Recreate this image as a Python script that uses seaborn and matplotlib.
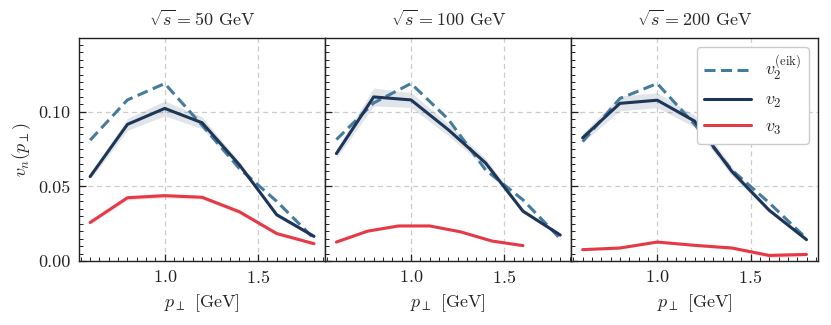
import numpy as np
import pandas as pd
import matplotlib
matplotlib.use("Agg")
import matplotlib.pyplot as plt
import seaborn as sns
from matplotlib.ticker import MultipleLocator

# ---------------- data ----------------
energies = ["50", "100", "200"]
pt = [0.6, 0.8, 1.0, 1.2, 1.4, 1.6, 1.8]
pt_v3_100 = [0.6, 0.767, 0.933, 1.1, 1.267, 1.433, 1.6]

v2eik_50 = [0.081, 0.108, 0.119, 0.091, 0.062, 0.040, 0.015]
v2_50 = [0.0566, 0.0916, 0.1023, 0.0927, 0.0645, 0.0310, 0.0165]
v2_50_err = [0.002, 0.004, 0.005, 0.004, 0.002, 0.0015, 0.0012]
v3_50 = [0.0258, 0.0424, 0.0438, 0.0427, 0.0330, 0.0184, 0.0116]
v3_50_err = [0.0012, 0.0015, 0.0015, 0.0015, 0.0015, 0.0012, 0.001]

v2eik_100 = [0.0814, 0.106, 0.119, 0.095, 0.061, 0.041, 0.015]
v2_100 = [0.072, 0.110, 0.108, 0.088, 0.0657, 0.0334, 0.0174]
v2_100_err = [0.003, 0.006, 0.005, 0.004, 0.003, 0.0015, 0.0012]
v3_100 = [0.0127, 0.020, 0.0235, 0.0235, 0.0195, 0.0134, 0.0103]
v3_100_err = [0.0008, 0.0008, 0.0008, 0.0008, 0.0008, 0.0008, 0.0008]

v2eik_200 = [0.080, 0.109, 0.119, 0.0916, 0.061, 0.039, 0.015]
v2_200 = [0.0826, 0.1057, 0.1078, 0.0938, 0.060, 0.034, 0.0143]
v2_200_err = [0.003, 0.005, 0.005, 0.004, 0.003, 0.0015, 0.0012]
v3_200 = [0.0076, 0.0087, 0.0127, 0.0105, 0.0087, 0.0037, 0.0044]
v3_200_err = [0.0008, 0.0008, 0.0008, 0.0008, 0.0012, 0.0015, 0.0015]

panels = [
    (pt, v2eik_50, v2_50, v2_50_err, pt, v3_50, v3_50_err),
    (pt, v2eik_100, v2_100, v2_100_err, pt_v3_100, v3_100, v3_100_err),
    (pt, v2eik_200, v2_200, v2_200_err, pt, v3_200, v3_200_err),
]

c_eik = "#457b9d"
c_v2 = "#1d3557"
c_v3 = "#e63946"

sns.set_theme(style="ticks")
plt.rcParams.update({
    "font.family": ["cmr10", "DejaVu Serif"],
    "mathtext.fontset": "cm",
    "axes.formatter.use_mathtext": True,
    "axes.unicode_minus": False,
    "font.size": 13,
    "axes.edgecolor": "#222222",
    "axes.linewidth": 1.0,
    "xtick.direction": "in",
    "ytick.direction": "in",
    "xtick.top": False,
    "ytick.right": False,
    "xtick.color": "#222222",
    "ytick.color": "#222222",
})

fig, axes = plt.subplots(1, 3, figsize=(8.31, 3.25), dpi=100, sharey=True)
fig.subplots_adjust(left=0.095, right=0.984, top=0.883, bottom=0.197, wspace=0)

for i, (ax, E, p) in enumerate(zip(axes, energies, panels)):
    x2, eik, v2, v2e, x3, v3, v3e = p
    v2 = np.array(v2); v2e = np.array(v2e)
    v3 = np.array(v3); v3e = np.array(v3e)
    df2 = pd.DataFrame({"pt": x2, "eik": eik, "v2": v2})
    df3 = pd.DataFrame({"pt": x3, "v3": v3})
    ax.fill_between(x2, v2 - v2e, v2 + v2e, color=c_v2, alpha=0.13, lw=0)
    ax.fill_between(x3, v3 - v3e, v3 + v3e, color=c_v3, alpha=0.15, lw=0)
    sns.lineplot(data=df2, x="pt", y="eik", ax=ax, color=c_eik, lw=2.2,
                 label=r"$v_2^{(\mathrm{eik})}$", legend=False)
    ax.lines[-1].set_dashes([3.6, 1.8])
    sns.lineplot(data=df2, x="pt", y="v2", ax=ax, color=c_v2, lw=2.2,
                 label=r"$v_2$", legend=False)
    sns.lineplot(data=df3, x="pt", y="v3", ax=ax, color=c_v3, lw=2.2,
                 label=r"$v_3$", legend=False)

    ax.set_xlim(0.54, 1.86)
    ax.set_ylim(0, 0.1495)
    ax.xaxis.set_major_locator(MultipleLocator(0.5))
    ax.xaxis.set_minor_locator(MultipleLocator(0.05))
    ax.yaxis.set_major_locator(MultipleLocator(0.05))
    ax.yaxis.set_minor_locator(MultipleLocator(0.005))
    ax.yaxis.set_major_formatter(matplotlib.ticker.FormatStrFormatter("%.2f"))
    ax.tick_params(which="major", length=5, width=0.9, labelsize=13, pad=6)
    ax.tick_params(which="minor", length=2.8, width=0.7)
    ax.grid(True, which="major", ls=(0, (4, 3)), color="#cccccc", lw=0.9)
    ax.set_axisbelow(True)
    ax.set_title(r"$\sqrt{s}=$" + E + " GeV", fontsize=13, pad=9)
    ax.set_xlabel(r"$p_\perp$ [GeV]", fontsize=13)
    if i == 0:
        ax.set_ylabel(r"$v_n(p_\perp)$", fontsize=13)
    else:
        ax.set_ylabel("")

axes[2].legend(loc="upper right", fontsize=13, frameon=True, fancybox=True,
               edgecolor="#cccccc", framealpha=1, handlelength=2.6,
               borderpad=0.4, labelspacing=0.5, handletextpad=0.8,
               borderaxespad=0.5)

fig.savefig("out.png", dpi=100)
